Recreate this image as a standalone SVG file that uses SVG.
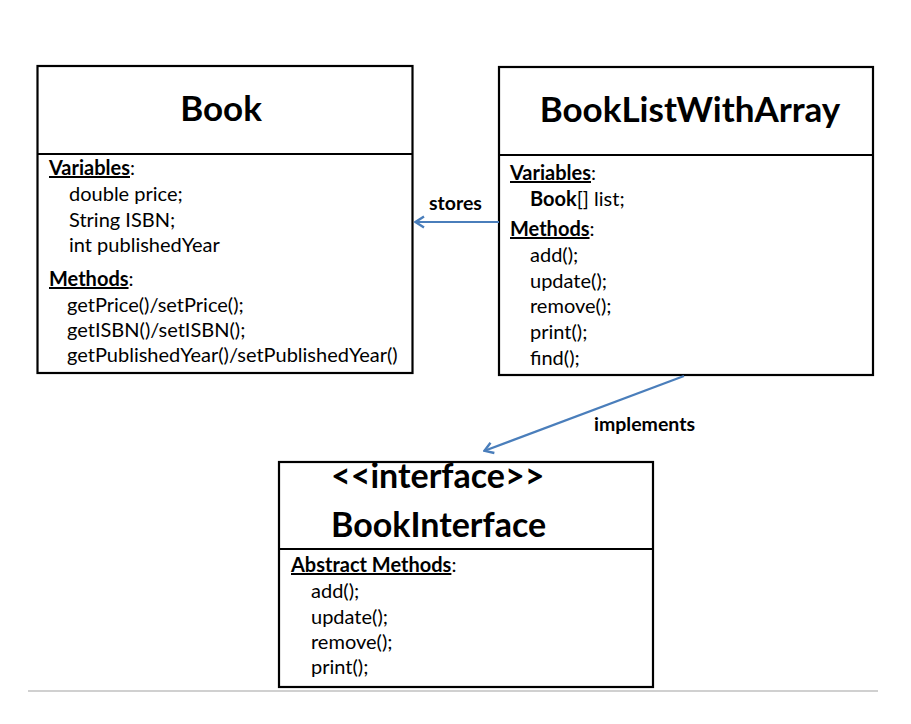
<svg xmlns="http://www.w3.org/2000/svg" width="911" height="724" viewBox="0 0 911 724">
<style>
  .box { fill: #ffffff; stroke: #000000; stroke-width: 2.2; }
  .div { stroke: #000000; stroke-width: 2.2; }
  text { font-family: Lato, "Open Sans", "Liberation Sans", sans-serif; fill: #000000; }
  .title { font-size: 35px; font-weight: bold; text-anchor: middle; }
  .ititle { font-size: 34px; font-weight: bold; }
  .body { font-size: 20px; }
  .u { text-decoration: underline; }
  .lbl { font-size: 19.5px; font-weight: bold; }
  .conn { stroke: #4a7ebb; stroke-width: 2.2; fill: none; }
</style>
<defs>
  <marker id="arr" viewBox="-11 -7 12 14" refX="0" refY="0" markerWidth="12" markerHeight="14" markerUnits="userSpaceOnUse" orient="auto">
    <path d="M-9,-5.5 L-0.5,0 L-9,5.5" fill="none" stroke="#4a7ebb" stroke-width="2.4" stroke-linejoin="miter"/>
  </marker>
</defs>
<rect width="911" height="724" fill="#ffffff"/>

<g id="node-book">
  <rect class="box" x="37.5" y="66" width="375" height="307"/>
  <line class="div" x1="37.5" y1="154" x2="412.5" y2="154"/>
  <text class="title" x="221" y="121">Book</text>
  <text class="body" x="49" y="175"><tspan class="u" font-weight="bold">Variables</tspan>:</text>
  <text class="body" x="69" y="201">double price;</text>
  <text class="body" x="69" y="226.5">String ISBN;</text>
  <text class="body" x="69" y="252">int publishedYear</text>
  <text class="body" x="49" y="286"><tspan class="u" font-weight="bold">Methods</tspan>:</text>
  <text class="body" x="67" y="311.5">getPrice()/setPrice();</text>
  <text class="body" x="67" y="336.5">getISBN()/setISBN();</text>
  <text class="body" x="67" y="361.5">getPublishedYear()/setPublishedYear()</text>
</g>

<g id="node-booklist">
  <rect class="box" x="499" y="67" width="374" height="308"/>
  <line class="div" x1="499" y1="155" x2="873" y2="155"/>
  <text class="title" x="690" y="122">BookListWithArray</text>
  <text class="body" x="510" y="180"><tspan class="u" font-weight="bold">Variables</tspan>:</text>
  <text class="body" x="530" y="205.5"><tspan font-weight="bold">Book</tspan>[] list;</text>
  <text class="body" x="510" y="236"><tspan class="u" font-weight="bold">Methods</tspan>:</text>
  <text class="body" x="530" y="262">add();</text>
  <text class="body" x="530" y="288">update();</text>
  <text class="body" x="530" y="313">remove();</text>
  <text class="body" x="530" y="339">print();</text>
  <text class="body" x="530" y="365">find();</text>
</g>

<g id="node-interface">
  <rect class="box" x="279" y="462" width="374" height="225"/>
  <line class="div" x1="279" y1="549" x2="653" y2="549"/>
  <text class="ititle" x="331" y="488">&lt;&lt;interface&gt;&gt;</text>
  <text class="ititle" x="331" y="537">BookInterface</text>
  <text class="body" x="291" y="572"><tspan class="u" font-weight="bold">Abstract Methods</tspan>:</text>
  <text class="body" x="311" y="598">add();</text>
  <text class="body" x="311" y="623.5">update();</text>
  <text class="body" x="311" y="649">remove();</text>
  <text class="body" x="311" y="674">print();</text>
</g>

<g id="connectors">
  <line class="conn" x1="499" y1="222" x2="415" y2="222" marker-end="url(#arr)"/>
  <text class="lbl" x="429" y="210">stores</text>
  <line class="conn" x1="684" y1="376" x2="484" y2="451" marker-end="url(#arr)"/>
  <text class="lbl" x="594" y="431">implements</text>
</g>

<line x1="28" y1="691" x2="878" y2="691" stroke="#c0c0c0" stroke-width="1.5"/>
</svg>
